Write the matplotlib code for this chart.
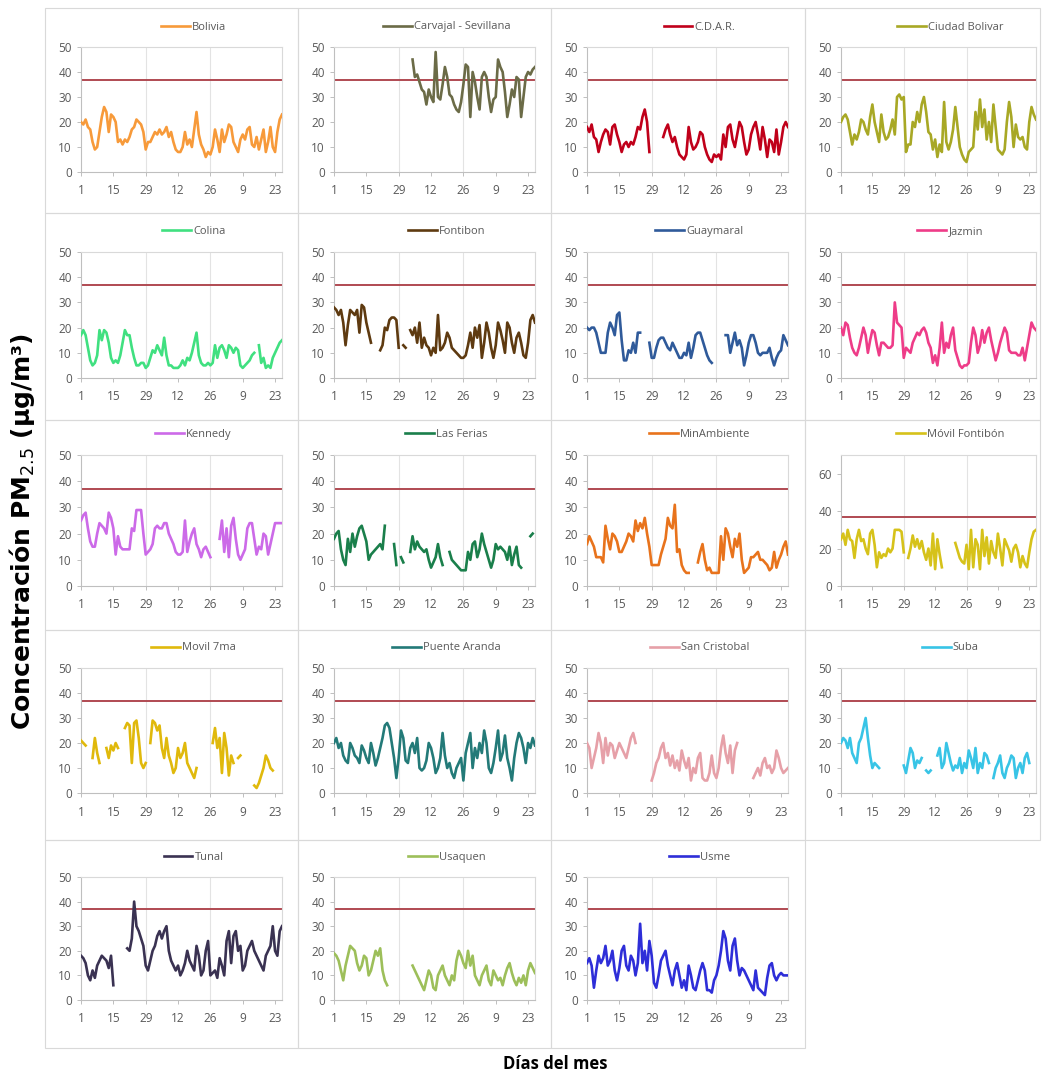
import numpy as np
import matplotlib.pyplot as plt
from matplotlib.patches import Rectangle

plt.rcParams['font.family'] = ['Open Sans', 'DejaVu Sans']

N = np.nan
W, H = 1042, 1073

# eje x: días del mes (ene - mar)
day_ticks = [0, 14, 28, 42, 56, 70, 84]
day_labels = ['1', '15', '29', '12', '26', '9', '23']
limit = 37  # norma PM2.5

stations = ['Bolivia', 'Carvajal - Sevillana', 'C.D.A.R.', 'Ciudad Bolivar',
            'Colina', 'Fontibon', 'Guaymaral', 'Jazmin',
            'Kennedy', 'Las Ferias', 'MinAmbiente', 'Móvil Fontibón',
            'Movil 7ma', 'Puente Aranda', 'San Cristobal', 'Suba',
            'Tunal', 'Usaquen', 'Usme']

colors = ['#F79A3A', '#6B6B47', '#C0001A', '#A8A825',
          '#40E080', '#5E3A10', '#2F5A9A', '#EE3C88',
          '#CC6AE8', '#1A7F4B', '#E8731C', '#D6C21A',
          '#E0B90C', '#237A78', '#E6A0A8', '#38C4E6',
          '#3A3252', '#9DBF5A', '#2E2ED8']

bolivia = [20, 19, 21, 18, 17, 12, 9, 10, 16, 22, 26,
           24, 16, 23, 22, 20, 12, 13, 11, 13, 12, 14,
           17, 18, 21, 20, 19, 16, 9, 12, 12, 14, 16,
           15, 17, 15, 16, 18, 14, 16, 12, 9, 8, 8,
           10, 16, 11, 13, 10, 17, 24, 15, 11, 9, 6,
           8, 7, 10, 17, 13, 8, 17, 12, 15, 19, 18,
           12, 10, 8, 13, 15, 13, 17, 18, 11, 10, 14,
           9, 13, 17, 8, 12, 18, 10, 8, 16, 21, 23]

carvajal = [N] * 34 + [45, 38, 39, 36, 33, 32, 27, 33, 30, 28,
                       48, 30, 29, 35, 42, 38, 31, 30, 27, 25,
                       24, 28, 35, 43, 42, 22, 40, 36, 30, 25,
                       38, 40, 38, 30, 24, 29, 30, 45, 42, 40,
                       32, 22, 27, 33, 30, 38, 37, 22, 30, 38,
                       40, 39, 41, 42]

cdar = [18, 16, 19, 14, 13, 8, 12, 15, 17, 16, 11,
        18, 19, 15, 12, 8, 11, 12, 10, 12, 11, 14,
        18, 17, 22, 25, 20, 8, N, N, N, N, N,
        14, 17, 19, 15, 12, 14, 10, 7, 6, 5, 7,
        18, 12, 9, 10, 12, 16, 15, 10, 7, 5, 4,
        7, 6, 7, 5, 15, 10, 18, 19, 13, 10, 15,
        20, 18, 12, 7, 9, 15, 18, 20, 15, 9, 18,
        13, 6, 13, 12, 8, 17, 7, 12, 18, 20, 18]

ciudad_bolivar = [20, 22, 23, 21, 16, 11, 15, 13, 16, 21, 20,
                  17, 15, 22, 27, 20, 16, 12, 23, 16, 13, 14,
                  17, 21, 15, 30, 31, 29, 30, 8, 11, 11, 20,
                  18, 24, 20, 27, 30, 24, 16, 15, 9, 13, 6,
                  11, 8, 28, 12, 9, 12, 17, 26, 18, 10, 7,
                  5, 4, 8, 9, 10, 24, 17, 29, 18, 25, 13,
                  20, 12, 27, 18, 9, 8, 7, 9, 20, 28, 22,
                  10, 19, 14, 13, 14, 10, 9, 20, 26, 23, 21]

colina = [17, 19, 17, 12, 7, 5, 6, 9, 19, 15, 19,
          18, 14, 8, 6, 7, 6, 9, 14, 19, 17, 17,
          12, 8, 5, 5, 6, 6, 4, 5, 8, 11, 10,
          13, 11, 9, 16, 9, 5, 5, 4, 4, 4, 5,
          7, 5, 8, 7, 10, 14, 18, 9, 6, 5, 5,
          6, 5, 6, 13, 8, 12, 13, 11, 8, 13, 12,
          10, 12, 11, 5, 4, 5, 6, 7, 9, 10, N,
          13, 6, 8, 4, 5, 4, 8, 10, 12, 14, 15]

fontibon = [28, 27, 25, 27, 22, 13, 21, 27, 26, 25, 27,
            18, 29, 28, 22, 18, 14, N, N, N, 11, 13,
            20, 19, 23, 24, 24, 23, 12, N, 13, 12, N,
            19, 17, 20, 14, 22, 12, 16, 13, 12, 9, 12,
            10, 25, 11, 12, 14, 18, 16, 12, 11, 10, 9,
            8, 8, 9, 13, 18, 12, 20, 16, 21, 8, 14,
            22, 18, 12, 8, 13, 22, 19, 15, 10, 22, 20,
            14, 10, 16, 18, 14, 9, 8, 14, 23, 25, 22]

guaymaral = [20, 19, 20, 20, 18, 14, 10, 10, 10, 18, 22,
             20, 17, 25, 26, 15, 7, 7, 11, 10, 14, 10,
             18, 18, N, N, N, 14, 8, 8, 12, 15, 16,
             16, 14, 12, 11, 14, 12, 10, 8, 8, 10, 9,
             14, 8, 12, 17, 18, 18, 15, 12, 9, 7, 6,
             N, N, N, N, N, 17, 17, 10, 14, 18, 13,
             15, 12, 5, 9, 14, 17, 17, 14, 10, 9, 10,
             10, 10, 12, 8, 5, 8, 10, 11, 17, 15, 13]

jazmin = [20, 17, 22, 21, 16, 12, 10, 9, 12, 16, 20,
          17, 10, 15, 19, 18, 13, 9, 14, 14, 13, 12,
          12, 13, 30, 22, 21, 20, 8, 12, 11, 10, 14,
          16, 18, 17, 19, 20, 18, 14, 12, 6, 9, 5,
          12, 22, 10, 14, 12, 17, 20, 11, 8, 5, 4,
          5, 5, 6, 14, 20, 17, 10, 13, 19, 14, 18,
          20, 15, 11, 7, 10, 14, 17, 20, 18, 11, 10,
          10, 10, 9, 9, 12, 7, 12, 17, 22, 20, 19]

kennedy = [25, 27, 28, 22, 17, 15, 15, 20, 24, 23, 22,
           20, 28, 26, 22, 12, 19, 15, 14, 14, 14, 14,
           22, 21, 29, 29, 29, 20, 12, 13, 14, 16, 22,
           23, 22, 22, 24, 24, 20, 18, 16, 13, 12, 12,
           13, 25, 13, 17, 20, 22, 16, 14, 11, 14, 15,
           13, 11, N, N, N, 18, 25, 13, 22, 11, 23,
           26, 18, 12, 10, 12, 14, 22, 24, 24, 18, 12,
           15, 14, 20, 19, 12, 16, 20, 24, 24, 24, 24]

las_ferias = [18, 20, 21, 14, 10, 8, 18, 13, 20, 15, 19,
              22, 23, 20, 17, 10, 12, 13, 14, 15, 16, 14,
              23, N, N, N, 16, 8, N, 11, 9, N, N,
              13, 19, 14, 17, 15, 14, 13, 14, 10, 7, 9,
              11, 16, 11, 8, N, N, 13, 10, 9, 8, 7,
              6, 6, 6, 13, 10, 16, 17, 11, 14, 20, 16,
              13, 10, 7, 10, 16, 14, 15, 14, 13, 10, 15,
              8, 12, 15, 8, 7, N, N, N, 19, 20, N]

minambiente = [16, 19, 17, 15, 11, 11, 11, 9, 23, 18, 14,
               20, 19, 17, 13, 13, 15, 17, 20, 19, 17, 25,
               21, 24, 22, 26, 20, 15, 8, 8, 8, 8, 12,
               15, 18, 26, 23, 22, 31, 13, 14, 8, 6, 5,
               5, N, N, N, 9, 13, 16, 10, 6, 7, 5,
               5, 5, 5, 19, 10, 22, 20, 15, 11, 18, 15,
               20, 10, 5, 6, 7, 11, 11, 12, 13, 10, 10,
               9, 8, 6, 7, 13, 7, 10, 12, 15, 17, 12]

movil_fontibon = [25, 28, 22, 30, 25, 24, 15, 25, 30, 24, 25,
                  20, 17, 28, 30, 22, 10, 18, 15, 17, 16, 20,
                  18, 20, 30, 30, 30, 29, 18, N, 15, 20, 27,
                  21, 25, 20, 24, 18, 14, 20, 11, 28, 9, 25,
                  17, 10, N, N, N, N, N, 23, 19, 15, 13,
                  12, 22, 9, 30, 10, 25, 22, 9, 30, 16, 26,
                  12, 24, 18, 15, 28, 20, 11, 25, 22, 19, 13,
                  20, 22, 18, 10, 16, 12, 10, 18, 25, 29, 30]

movil_7ma = [21, 20, 19, N, N, 14, 22, 16, 12, N, N,
             18, 14, 19, 17, 20, 18, N, N, 26, 28, 27,
             12, 28, 29, 22, 12, 10, 12, N, 20, 29, 28,
             25, 27, 18, 14, 22, 15, 12, 8, 10, 18, 14,
             16, 20, 12, 10, 8, 6, 10, N, N, N, N,
             N, N, 20, 26, 18, 22, 8, 24, 18, 7, 15,
             12, N, 14, 15, N, N, N, N, N, 3, 2,
             4, 7, 10, 15, 13, 10, 9, N, N, N, N]

puente_aranda = [20, 22, 18, 20, 15, 13, 12, 20, 18, 15, 14,
                 12, 19, 17, 14, 12, 20, 16, 11, 14, 18, 22,
                 27, 28, 26, 20, 14, 6, 14, 25, 22, 13, 12,
                 18, 20, 16, 22, 10, 9, 10, 13, 20, 18, 14,
                 8, 10, 14, 24, 15, 10, 12, 8, 6, 10, 12,
                 14, 5, 16, 20, 24, 10, 18, 14, 20, 16, 25,
                 20, 10, 8, 12, 18, 25, 13, 16, 23, 14, 10,
                 5, 14, 20, 24, 22, 18, 12, 20, 18, 22, 19]

san_cristobal = [20, 18, 10, 14, 18, 24, 20, 12, 22, 15, 20,
                 19, 14, 17, 20, 18, 16, 14, 18, 22, 24, 20,
                 N, N, N, N, N, N, 5, 8, 12, 14, 18,
                 20, 14, 16, 11, 15, 10, 13, 9, 17, 13, 10,
                 14, 5, 10, 8, 14, 16, 6, 5, 5, 8, 15,
                 8, 6, 10, 18, 23, 16, 12, 19, 8, 17, 20,
                 N, N, N, N, N, N, 6, 8, 10, 7, 12,
                 14, 10, 11, 8, 10, 17, 14, 10, 8, 9, 10]

suba = [20, 22, 21, 18, 22, 16, 14, 12, 20, 22, 26,
        30, 22, 15, 10, 12, 11, 10, N, N, N, N,
        N, N, N, N, N, N, 11, 8, 13, 18, 16,
        10, 13, 12, 14, N, 9, 8, 9, N, N,
        15, 18, 10, 12, 20, 16, 12, 9, 11, 10, 14,
        8, 12, 10, 17, 14, 10, 18, 8, 12, 10, 16,
        15, 12, N, 6, 10, 12, 15, 8, 6, 10, 12,
        15, 14, 6, 10, 12, 8, 14, 16, 12, N, 15]

tunal = [18, 17, 15, 10, 8, 12, 9, 14, 16, 18, 17,
         16, 13, 18, 6, N, N, N, N, N, 21, 20,
         25, 40, 30, 28, 25, 22, 14, 12, 16, 20, 22,
         26, 28, 25, 28, 30, 20, 16, 14, 12, 14, 10,
         12, 15, 20, 16, 14, 12, 22, 18, 10, 12, 20,
         24, 10, 11, 12, 9, 17, 14, 10, 24, 28, 15,
         26, 28, 20, 22, 12, 14, 20, 22, 24, 20, 18,
         16, 14, 12, 18, 20, 22, 30, 20, 18, 28, 30]

usaquen = [19, 18, 16, 12, 8, 14, 18, 22, 21, 20, 15,
           12, 14, 18, 17, 10, 12, 16, 20, 18, 21, 12,
           8, 6, N, N, N, N, N, N, N, N, N,
           N, 14, 12, 10, 8, 6, 4, 8, 12, 10, 5,
           4, 10, 12, 14, 10, 8, 6, 10, 8, 16, 20,
           18, 15, 13, 20, 14, 18, 10, 8, 6, 10, 12,
           14, 8, 6, 12, 10, 8, 9, 6, 10, 13, 15,
           11, 8, 6, 9, 7, 10, 6, 12, 15, 13, 11]

usme = [15, 17, 14, 5, 12, 18, 15, 17, 22, 14, 16,
        20, 12, 8, 13, 20, 22, 14, 12, 18, 16, 10,
        15, 31, 15, 20, 12, 24, 18, 7, 5, 10, 16,
        18, 20, 14, 10, 6, 12, 15, 10, 5, 8, 4,
        14, 10, 5, 4, 8, 12, 15, 12, 4, 4, 3,
        8, 10, 14, 20, 28, 25, 16, 12, 22, 25, 16,
        10, 13, 12, 10, 8, 6, 4, 12, 5, 4, 3,
        2, 9, 14, 15, 10, 8, 10, 11, 10, 10, 10]

series = [bolivia, carvajal, cdar, ciudad_bolivar,
          colina, fontibon, guaymaral, jazmin,
          kennedy, las_ferias, minambiente, movil_fontibon,
          movil_7ma, puente_aranda, san_cristobal, suba,
          tunal, usaquen, usme]

# cuadricula de paneles (pixeles)
col_left = [45, 298, 551, 805]
col_right = [298, 551, 805, 1040]
row_top = [8, 213, 420, 630, 840]
row_bot = [213, 420, 630, 840, 1048]
ax_top = [47, 252, 455, 668, 877]
ax_bot = [172, 378, 586, 793, 1000]

fig = plt.figure(figsize=(W / 100, H / 100), dpi=100)

for i, (name, col, vals) in enumerate(zip(stations, colors, series)):
    r, c = divmod(i, 4)
    fig.patches.append(Rectangle((col_left[c] / W, 1 - row_bot[r] / H),
                                 (col_right[c] - col_left[c]) / W,
                                 (row_bot[r] - row_top[r]) / H,
                                 transform=fig.transFigure, fill=False,
                                 edgecolor='#D9D9D9', lw=0.8))
    left = col_left[c] + 36
    right = min(col_left[c] + 237, 1036)
    ax = fig.add_axes([left / W, 1 - ax_bot[r] / H,
                       (right - left) / W, (ax_bot[r] - ax_top[r]) / H])
    y = np.array(vals, dtype=float)
    x = np.arange(len(y))
    ax.plot(x, y, color=col, lw=1.9, label=name, zorder=3)
    ax.axhline(limit, color='#B04A52', lw=1.4, zorder=2)
    for d in (28, 56):
        ax.axvline(d, color='#E3E3E3', lw=0.8, zorder=0)

    ax.set_xlim(0, 87)
    if name == 'Móvil Fontibón':
        ax.set_ylim(0, 70)
        ax.set_yticks([0, 20, 40, 60])
    else:
        ax.set_ylim(0, 50)
        ax.set_yticks([0, 10, 20, 30, 40, 50])
    ax.set_xticks(day_ticks)
    ax.set_xticklabels(day_labels)
    ax.tick_params(labelsize=8.5, labelcolor='#595959', color='#BFBFBF',
                   length=3, width=0.7)
    ax.tick_params(axis='x', pad=6)
    for s in ax.spines.values():
        s.set_color('#D9D9D9')
        s.set_linewidth(0.8)
    ax.spines['left'].set_color('#BFBFBF')
    ax.spines['bottom'].set_color('#BFBFBF')

    ax.legend(loc='center', bbox_to_anchor=(0.56, 1.16), frameon=False,
              fontsize=8, handlelength=2.6, handletextpad=0.2,
              labelcolor='#595959', borderaxespad=0, borderpad=0)

fig.text(22 / W, 1 - 532 / H, 'Concentración PM$_{2.5}$ (µg/m³)',
         rotation=90, ha='center', va='center', fontsize=18,
         fontweight='bold', family='DejaVu Sans', color='#000000')
fig.text(555 / W, 1 - 1064 / H, 'Días del mes', ha='center', va='center',
         fontsize=12, fontweight='bold', color='#000000')

fig.savefig('out.png', dpi=100)
